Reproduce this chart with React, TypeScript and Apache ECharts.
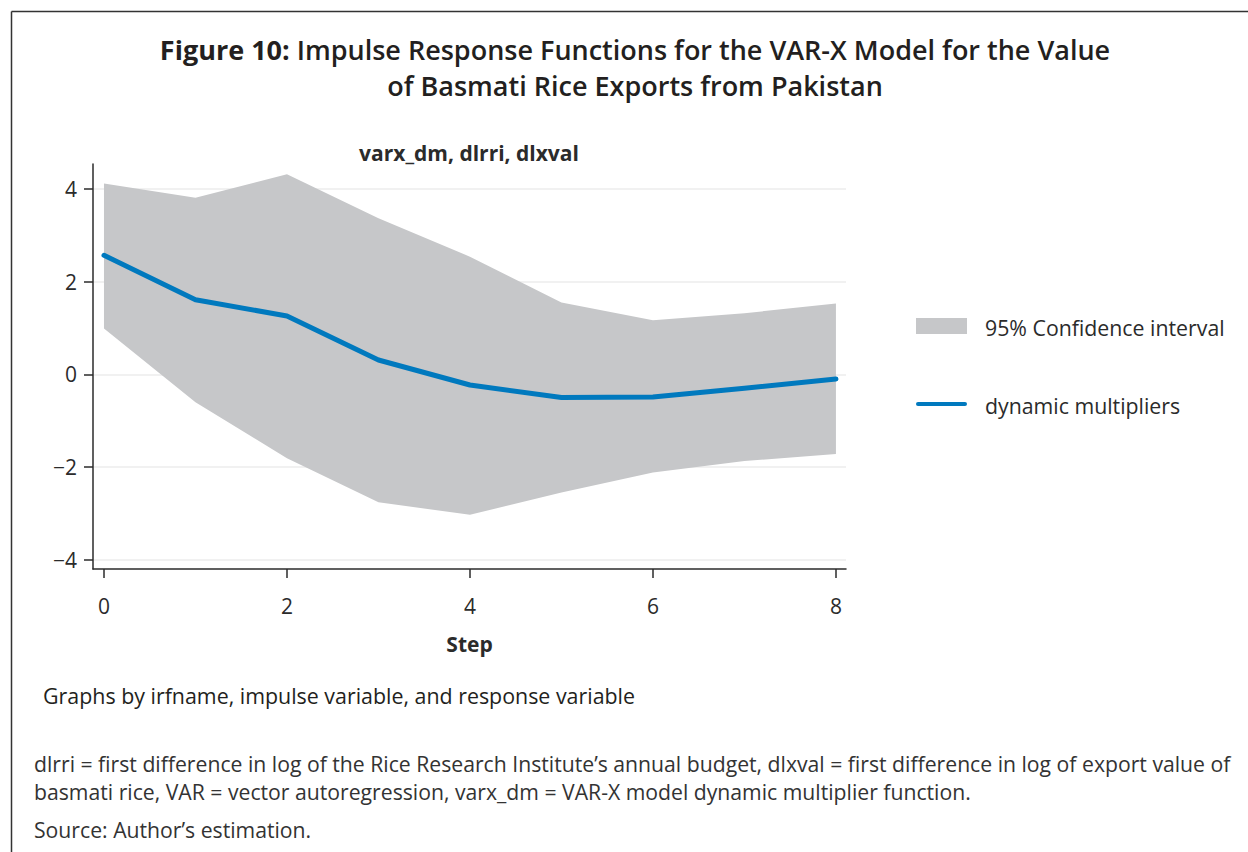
import React, { useEffect, useRef } from "react";
import * as echarts from "echarts";

const steps = [0, 1, 2, 3, 4, 5, 6, 7, 8];
const upperCI = [4.12, 3.81, 4.32, 3.37, 2.54, 1.55, 1.17, 1.32, 1.53];
const lowerCI = [0.99, -0.6, -1.81, -2.76, -3.03, -2.55, -2.12, -1.87, -1.72];
const dynamicMultipliers = [2.57, 1.61, 1.26, 0.31, -0.23, -0.5, -0.49, -0.3, -0.1];
const xTicks = [0, 2, 4, 6, 8];
const yTicks = [-4, -2, 0, 2, 4];

const FONT = "'Open Sans', Lato, sans-serif";
const TEXT = "#2b2b2b";

export default function App() {
  const ref = useRef<HTMLDivElement>(null);
  useEffect(() => {
    if (!ref.current) return;
    const chart = echarts.init(ref.current, undefined, { renderer: "svg" });
    const bandData = steps.map((s, i) => [s, lowerCI[i], upperCI[i]]);
    const lineData = steps.map((s, i) => [s, dynamicMultipliers[i]]);
    chart.setOption({
      animation: false,
      textStyle: { fontFamily: FONT },
      grid: { left: 93, right: 402, top: 164, bottom: 283, containLabel: false },
      xAxis: {
        type: "value",
        min: -0.12,
        max: 8.11,
        name: "Step",
        nameLocation: "middle",
        nameGap: 64,
        nameTextStyle: { fontFamily: FONT, fontSize: 21, fontWeight: "bold", color: TEXT },
        axisLine: { show: true, onZero: false, lineStyle: { color: "#2b2b2b", width: 1.5 } },
        axisTick: { show: true, length: 9, lineStyle: { color: "#2b2b2b", width: 1.5 }, customValues: xTicks },
        axisLabel: { fontFamily: FONT, fontSize: 21, color: TEXT, margin: 26, customValues: xTicks },
        splitLine: { show: false },
      },
      yAxis: {
        type: "value",
        min: -4.2,
        max: 4.54,
        axisLine: { show: true, onZero: false, lineStyle: { color: "#2b2b2b", width: 1.5 } },
        axisTick: { show: true, length: 9, lineStyle: { color: "#2b2b2b", width: 1.5 }, customValues: yTicks },
        axisLabel: {
          fontFamily: FONT,
          fontSize: 21,
          color: TEXT,
          margin: 16,
          customValues: yTicks,
          formatter: (v: number) => String(v).replace("-", "\u2212"),
        },
        splitLine: { show: true, lineStyle: { color: "#ececec", width: 1.5 } },
      },
      series: [
        {
          name: "95% Confidence interval",
          type: "custom",
          data: bandData,
          encode: { x: 0, y: [1, 2] },
          silent: true,
          z: 1,
          renderItem: (params: any, api: any) => {
            if (params.dataIndex !== 0) return null;
            const top: number[][] = [];
            const bottom: number[][] = [];
            for (let i = 0; i < bandData.length; i++) {
              top.push(api.coord([bandData[i][0], bandData[i][2]]));
              bottom.push(api.coord([bandData[i][0], bandData[i][1]]));
            }
            return {
              type: "polygon",
              shape: { points: top.concat(bottom.reverse()) },
              style: { fill: "#c6c7c9", stroke: "none" },
            };
          },
        },
        {
          name: "dynamic multipliers",
          type: "line",
          data: lineData,
          symbol: "none",
          lineStyle: { color: "#0079be", width: 5, cap: "round", join: "round" },
          z: 3,
        },
      ],
      graphic: [
        { type: "line", shape: { x1: 11.5, y1: 11.5, x2: 1248, y2: 11.5 }, style: { stroke: "#333", lineWidth: 1.5 } },
        { type: "line", shape: { x1: 11.5, y1: 11.5, x2: 11.5, y2: 852 }, style: { stroke: "#333", lineWidth: 1.5 } },
        {
          type: "text",
          x: 635,
          y: 31,
          style: {
            text: "{b|Figure 10: }{s|Impulse Response Functions for the VAR-X Model for the Value}\n{s|of Basmati Rice Exports from Pakistan}",
            align: "center",
            verticalAlign: "top",
            lineHeight: 36,
            rich: {
              b: { fontFamily: FONT, fontSize: 27, fontWeight: 700, fill: "#231f20", lineHeight: 36 },
              s: { fontFamily: FONT, fontSize: 27, fontWeight: 600, fill: "#231f20", lineHeight: 36 },
            },
          },
        },
        {
          type: "text",
          x: 469,
          y: 153,
          style: { text: "varx_dm, dlrri, dlxval", align: "center", verticalAlign: "middle", fontFamily: FONT, fontSize: 21, fontWeight: "bold", fill: TEXT },
        },
        { type: "rect", shape: { x: 916, y: 318, width: 51, height: 16 }, style: { fill: "#c6c7c9" } },
        {
          type: "text",
          x: 985,
          y: 327,
          style: { text: "95% Confidence interval", align: "left", verticalAlign: "middle", fontFamily: FONT, fontSize: 21.3, fill: TEXT },
        },
        { type: "line", shape: { x1: 918, y1: 404, x2: 965, y2: 404 }, style: { stroke: "#0079be", lineWidth: 4, lineCap: "round" } },
        {
          type: "text",
          x: 985,
          y: 405,
          style: { text: "dynamic multipliers", align: "left", verticalAlign: "middle", fontFamily: FONT, fontSize: 21.3, fill: TEXT },
        },
        {
          type: "text",
          x: 43,
          y: 695,
          style: { text: "Graphs by irfname, impulse variable, and response variable", align: "left", verticalAlign: "middle", fontFamily: FONT, fontSize: 21.4, fill: "#231f20" },
        },
        {
          type: "text",
          x: 34,
          y: 763,
          style: {
            text: "dlrri = first difference in log of the Rice Research Institute\u2019s annual budget, dlxval = first difference in log of export value of",
            align: "left",
            verticalAlign: "middle",
            fontFamily: FONT,
            fontSize: 21.2,
            fill: "#333",
          },
        },
        {
          type: "text",
          x: 34,
          y: 791,
          style: {
            text: "basmati rice, VAR = vector autoregression, varx_dm = VAR-X model dynamic multiplier function.",
            align: "left",
            verticalAlign: "middle",
            fontFamily: FONT,
            fontSize: 21.2,
            fill: "#333",
          },
        },
        {
          type: "text",
          x: 34,
          y: 829,
          style: { text: "Source: Author\u2019s estimation.", align: "left", verticalAlign: "middle", fontFamily: FONT, fontSize: 21.2, fill: "#333" },
        },
      ],
    });
    return () => chart.dispose();
  }, []);
  return (
    <div
      ref={ref}
      style={{ position: "fixed", left: 0, top: 0, width: 1248, height: 852, background: "#fff" }}
    />
  );
}
